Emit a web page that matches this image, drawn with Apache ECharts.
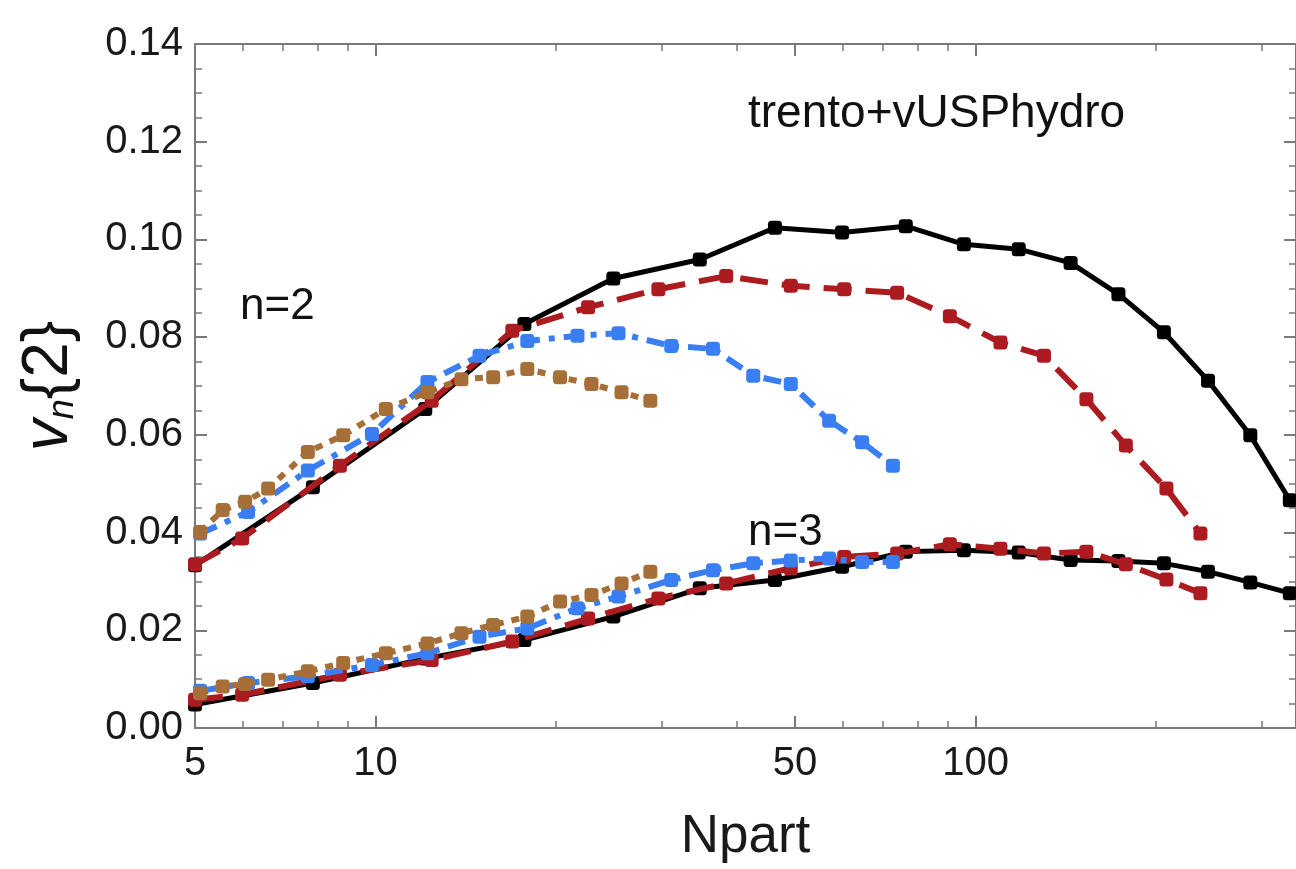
<!DOCTYPE html>
<html>
<head>
<meta charset="utf-8">
<script src="https://cdn.jsdelivr.net/npm/echarts@6/dist/echarts.min.js"></script>
<style>
html,body{margin:0;padding:0;background:#fff;}
#chart{width:1296px;height:869px;}
</style>
</head>
<body>
<div id="chart"></div>
<script>
// ---- data (Npart, v_n{2}) ----
const blackN  = [5.0, 7.86, 12.1, 17.7, 24.9, 34.7, 46.3, 59.9, 76.5, 95.6, 118, 144, 173, 206, 244, 287, 334];
const blackV2 = [0.0333, 0.0493, 0.0653, 0.0827, 0.0920, 0.0959, 0.1024, 0.1014, 0.1027, 0.0990, 0.0980, 0.0952, 0.0888, 0.0810, 0.0711, 0.0599, 0.0466];
const blackV3 = [0.0048, 0.0092, 0.0142, 0.0180, 0.0228, 0.0286, 0.0303, 0.0330, 0.0361, 0.0364, 0.0359, 0.0344, 0.0342, 0.0337, 0.0320, 0.0298, 0.0276];

const redN  = [5.0, 5.99, 8.72, 12.4, 16.9, 22.6, 29.6, 38.4, 49.2, 60.4, 74.0, 90.6, 110, 130, 153, 178, 208, 237];
const redV2 = [0.0335, 0.0388, 0.0537, 0.0670, 0.0813, 0.0861, 0.0898, 0.0925, 0.0905, 0.0898, 0.0891, 0.0843, 0.0789, 0.0762, 0.0673, 0.0578, 0.0490, 0.0398];
const redV3 = [0.0058, 0.0068, 0.0109, 0.0139, 0.0177, 0.0224, 0.0265, 0.0296, 0.0327, 0.0350, 0.0357, 0.0376, 0.0367, 0.0357, 0.0361, 0.0335, 0.0304, 0.0276];

const blueN  = [5.10, 6.13, 7.71, 9.86, 12.2, 14.9, 17.9, 21.7, 25.4, 31.1, 36.5, 42.6, 49.2, 57.0, 64.7, 72.8];
const blueV2 = [0.0398, 0.0442, 0.0527, 0.0602, 0.0708, 0.0762, 0.0792, 0.0803, 0.0808, 0.0782, 0.0776, 0.0721, 0.0704, 0.0629, 0.0585, 0.0537];
const blueV3 = [0.0076, 0.0092, 0.0106, 0.0129, 0.0153, 0.0187, 0.0204, 0.0245, 0.0269, 0.0303, 0.0323, 0.0337, 0.0343, 0.0347, 0.0340, 0.0340];

const brownN  = [5.10, 5.56, 6.06, 6.62, 7.71, 8.83, 10.4, 12.2, 13.9, 15.7, 17.9, 20.3, 22.9, 25.7, 28.7];
const brownV2 = [0.0401, 0.0446, 0.0463, 0.0490, 0.0565, 0.0599, 0.0653, 0.0687, 0.0714, 0.0718, 0.0735, 0.0718, 0.0704, 0.0687, 0.0670];
const brownV3 = [0.0071, 0.0085, 0.0090, 0.0099, 0.0116, 0.0133, 0.0153, 0.0173, 0.0194, 0.0211, 0.0228, 0.0259, 0.0272, 0.0296, 0.0320];

// ---- ticks and texts ----
const xMajorTicks = [5, 10, 50, 100];
const xMinorTicks = [6, 7, 8, 9, 20, 30, 40, 60, 70, 80, 90, 200, 300];
const xName = 'Npart';
const yName = '{v|v}{sub|n}{2}';
const titleText = 'trento+vUSPhydro';
const n2Text = 'n=2';
const n3Text = 'n=3';

const FONT = '"Liberation Sans", Arial, Helvetica, sans-serif';
const AX = '#7a7a7a';

function zip(xs, ys) { return xs.map((x, i) => [x, ys[i]]); }

const chart = echarts.init(document.getElementById('chart'), null, {renderer: 'canvas'});

function xAx(pos, major, withLabels, withLine) {
  return {
    type: 'log', logBase: 10, min: 5, max: 342, position: pos,
    axisLine: {show: withLine, lineStyle: {color: AX, width: 2}},
    axisTick: {show: true, inside: true, length: major ? 12 : 7,
      customValues: major ? xMajorTicks : xMinorTicks,
      lineStyle: {color: AX, width: major ? 2 : 1.5}},
    axisLabel: {show: withLabels, customValues: xMajorTicks, fontSize: 40, fontFamily: FONT, color: '#1a1a1a', margin: 16,
      formatter: v => String(Math.round(v))},
    splitLine: {show: false},
    minorTick: {show: false},
    name: (withLabels ? xName : ''),
    nameLocation: 'middle', nameGap: 83,
    nameTextStyle: {fontSize: 53, fontFamily: FONT, color: '#1a1a1a'}
  };
}

function yAx(pos, withLabels) {
  return {
    type: 'value', min: 0, max: 0.14, interval: 0.02, position: pos,
    axisLine: {show: true, lineStyle: {color: AX, width: 2}},
    axisTick: {show: true, inside: true, length: 12, lineStyle: {color: AX, width: 2}},
    minorTick: {show: true, splitNumber: 4, length: 7, lineStyle: {color: AX, width: 1.5}},
    axisLabel: {show: withLabels, fontSize: 40, fontFamily: FONT, color: '#1a1a1a', margin: 12,
      formatter: v => v.toFixed(2)},
    splitLine: {show: false},
    name: withLabels ? yName : '',
    nameLocation: 'middle', nameGap: 114, nameRotate: 90,
    nameTextStyle: {fontSize: 64, fontFamily: FONT, color: '#111', lineHeight: 64,
      rich: {
        v: {fontSize: 64, fontStyle: 'italic', fontFamily: FONT, color: '#111', lineHeight: 64},
        sub: {fontSize: 36, fontStyle: 'italic', fontFamily: FONT, color: '#111', lineHeight: 36, verticalAlign: 'bottom'}
      }}
  };
}

function line(name, xs, ys, color, dash, width, z) {
  return {
    name, type: 'line', xAxisIndex: 0, yAxisIndex: 0,
    data: zip(xs, ys),
    symbol: 'roundRect', symbolSize: 14, showAllSymbol: true,
    lineStyle: {color, width, type: dash, cap: 'butt'},
    itemStyle: {color, borderWidth: 0},
    z, silent: true, animation: false, clip: true
  };
}

const RED = '#AC1B20', BLUE = '#3A7EF4', BROWN = '#A66F38', BLACK = '#000000';

const option = {
  backgroundColor: '#ffffff',
  animation: false,
  grid: {left: 195, right: -1, top: 44, bottom: 139, containLabel: false},
  xAxis: [
    xAx('bottom', true, true, true),
    xAx('bottom', false, false, false),
    xAx('top', true, false, true),
    xAx('top', false, false, false)
  ],
  yAxis: [yAx('left', true), yAx('right', false)],
  series: [
    line('black n=2', blackN, blackV2, BLACK, 'solid', 5, 2),
    line('black n=3', blackN, blackV3, BLACK, 'solid', 5, 2),
    line('red n=2', redN, redV2, RED, [28, 14], 6, 3),
    line('red n=3', redN, redV3, RED, [28, 14], 6, 3),
    line('blue n=2', blueN, blueV2, BLUE, [18, 9, 6, 9], 6, 4),
    line('blue n=3', blueN, blueV3, BLUE, [18, 9, 6, 9], 6, 4),
    line('brown n=2', brownN, brownV2, BROWN, [8, 8], 6, 5),
    line('brown n=3', brownN, brownV3, BROWN, [8, 8], 6, 5)
  ],
  graphic: [
    {type: 'text', x: 748, y: 114, style: {text: titleText, font: '46px ' + FONT, fill: '#111', align: 'left', verticalAlign: 'middle', textAlign: 'left', textVerticalAlign: 'middle'}},
    {type: 'text', x: 240, y: 307, style: {text: n2Text, font: '44px ' + FONT, fill: '#111', align: 'left', verticalAlign: 'middle', textAlign: 'left', textVerticalAlign: 'middle'}},
    {type: 'text', x: 748, y: 533, style: {text: n3Text, font: '44px ' + FONT, fill: '#111', align: 'left', verticalAlign: 'middle', textAlign: 'left', textVerticalAlign: 'middle'}}
  ]
};
chart.setOption(option);
</script>
</body>
</html>
